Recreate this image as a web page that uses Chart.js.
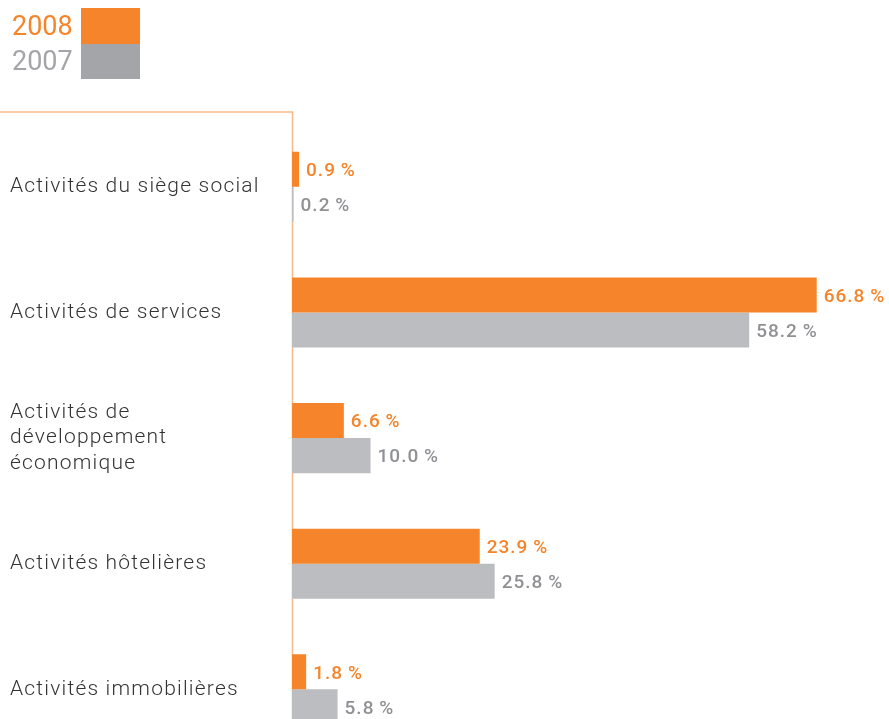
<!DOCTYPE html>
<html>
<head>
<meta charset="utf-8">
<script src="https://cdn.jsdelivr.net/npm/chart.js@4/dist/chart.umd.min.js"></script>
<style>
  html, body { margin: 0; padding: 0; background: #fff; overflow: hidden; }
  #wrap { position: relative; width: 889px; height: 768px; }
  #legend { position: absolute; left: 12px; top: 8px; font-family: Roboto, sans-serif; font-size: 27px; }
  .leg-row { display: flex; align-items: center; height: 35.5px; }
  .leg-row span { width: 69px; }
  .leg-row i { display: block; width: 59px; height: 35.5px; }
</style>
</head>
<body>
<div id="wrap">
  <div id="legend"></div>
  <canvas id="chart" width="889" height="768"></canvas>
</div>
<script>
const categories = [
    'Activités du siège social',
    'Activités de services',
    ['Activités de', 'développement', 'économique'],
    'Activités hôtelières',
    'Activités immobilières'
];
const values2008 = [0.9, 66.8, 6.6, 23.9, 1.8];
const values2007 = [0.2, 58.2, 10.0, 25.8, 5.8];
const seriesNames = ['2008', '2007'];

const orange = '#f5842a';
const barGray = '#bcbdc0';
const labelGray = '#909194';
const legendGray = '#a4a5a8';
const lineOrange = '#f9b98a';

// legende html (texte + carré)
const legendColors = [[orange, orange], [legendGray, legendGray]];
document.getElementById('legend').innerHTML = seriesNames.map((n, i) =>
    '<div class="leg-row"><span style="color:' + legendColors[i][0] + '">' + n +
    '</span><i style="background:' + legendColors[i][1] + '"></i></div>').join('');

// espacement des lettres pour imiter la police d'origine
const tracking = {
    id: 'tracking',
    beforeDraw(chart) { chart.ctx.letterSpacing = '1.2px'; }
};

// étiquettes de valeur au bout des barres
const valueLabels = {
    id: 'valueLabels',
    afterDatasetsDraw(chart) {
        const ctx = chart.ctx;
        ctx.save();
        ctx.font = '500 19px Roboto, sans-serif';
        ctx.letterSpacing = '1px';
        ctx.textBaseline = 'middle';
        ctx.textAlign = 'left';
        chart.data.datasets.forEach((ds, di) => {
            ctx.fillStyle = di === 0 ? orange : labelGray;
            chart.getDatasetMeta(di).data.forEach((bar, i) => {
                const txt = ds.data[i].toFixed(1) + '\u2009%';
                ctx.fillText(txt, bar.x + 7, bar.y + 2);
            });
        });
        ctx.restore();
    }
};

// trait orange : vertical sur l'axe + horizontal en haut à gauche
const axisFrame = {
    id: 'axisFrame',
    beforeDatasetsDraw(chart) {
        const ctx = chart.ctx;
        const x = chart.chartArea.left + 0.5;
        const top = chart.chartArea.top - 12;
        ctx.save();
        ctx.strokeStyle = lineOrange;
        ctx.lineWidth = 1.5;
        ctx.beginPath();
        ctx.moveTo(0, top);
        ctx.lineTo(x, top);
        ctx.lineTo(x, chart.height);
        ctx.stroke();
        ctx.restore();
    }
};

new Chart(document.getElementById('chart').getContext('2d'), {
    type: 'bar',
    data: {
        labels: categories,
        datasets: [{
            label: seriesNames[0],
            data: values2008,
            backgroundColor: orange,
            categoryPercentage: 0.558,
            barPercentage: 1.0
        }, {
            label: seriesNames[1],
            data: values2007,
            backgroundColor: barGray,
            categoryPercentage: 0.558,
            barPercentage: 1.0
        }]
    },
    options: {
        indexAxis: 'y',
        responsive: false,
        animation: false,
        layout: { padding: { left: 10, top: 124, right: 0, bottom: 8 } },
        plugins: {
            legend: { display: false },
            tooltip: { enabled: false }
        },
        scales: {
            x: {
                display: false,
                min: 0,
                max: 76
            },
            y: {
                afterFit(scale) { scale.width = 282; },
                grid: { display: false },
                border: { display: false },
                ticks: {
                    crossAlign: 'far',
                    color: '#333333',
                    font: { family: 'Roboto, sans-serif', size: 21, weight: 300, lineHeight: 1.22 }
                }
            }
        }
    },
    plugins: [tracking, axisFrame, valueLabels]
});
</script>
</body>
</html>
